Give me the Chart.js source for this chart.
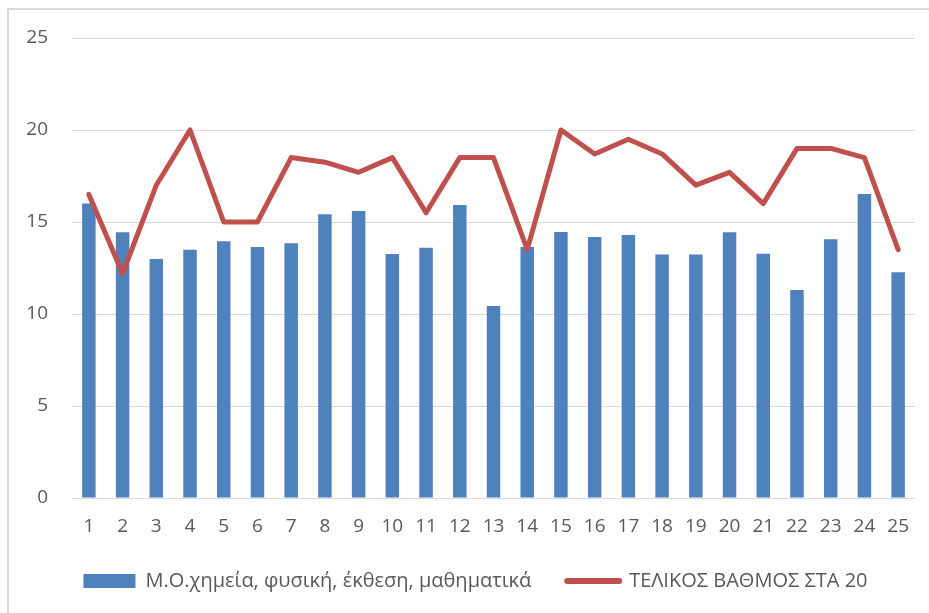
<!DOCTYPE html>
<html>
<head>
<meta charset="utf-8">
<script src="https://cdn.jsdelivr.net/npm/chart.js@4/dist/chart.umd.min.js"></script>
<style>
  html, body { margin: 0; padding: 0; background: #fff; }
  #wrap { position: relative; width: 929px; height: 613px; }
  #frame { position: absolute; left: 7px; top: 8px; right: 0; bottom: 0;
           border-left: 2px solid #d9d9d9; border-top: 2px solid #d9d9d9; }
  canvas { position: absolute; left: 0; top: 0; }
</style>
</head>
<body>
<div id="wrap">
  <div id="frame"></div>
  <canvas id="myChart" width="929" height="613"></canvas>
</div>
<script>
const labels = ['1','2','3','4','5','6','7','8','9','10','11','12','13','14','15','16','17','18','19','20','21','22','23','24','25'];
const mesosOros = [16.0, 14.44, 12.99, 13.49, 13.95, 13.64, 13.84, 15.42, 15.6, 13.26, 13.6, 15.92, 10.43, 13.64, 14.46, 14.18, 14.29, 13.24, 13.24, 14.44, 13.28, 11.3, 14.06, 16.52, 12.27];
const telikos = [16.5, 12.2, 17, 20, 15, 15, 18.5, 18.25, 17.7, 18.5, 15.5, 18.5, 18.5, 13.5, 20, 18.7, 19.5, 18.7, 17, 17.7, 16, 19, 19, 18.5, 13.5];
const yTicks = [0, 5, 10, 15, 20, 25];

const textColor = '#595959';
const fontFamily = '"Open Sans", "Noto Sans", sans-serif';

// nudge the legend a little to the right, under the plot area
const legendShift = {
  id: 'legendShift',
  afterLayout(chart) {
    if (chart.legend) {
      chart.legend.left += 18;
      chart.legend.right += 18;
    }
  }
};

const myChart = new Chart(document.getElementById('myChart'), {
  type: 'bar',
  plugins: [legendShift],
  data: {
    labels: labels,
    datasets: [{
      type: 'bar',
      label: 'Μ.Ο.χημεία, φυσική, έκθεση, μαθηματικά',
      data: mesosOros,
      backgroundColor: '#4f81bd',
      borderWidth: 0,
      barPercentage: 0.4,
      categoryPercentage: 1,
      order: 2
    }, {
      type: 'line',
      label: 'ΤΕΛΙΚΟΣ ΒΑΘΜΟΣ ΣΤΑ 20',
      data: telikos,
      borderColor: '#c0504d',
      backgroundColor: '#c0504d',
      borderWidth: 5,
      borderJoinStyle: 'round',
      borderCapStyle: 'round',
      pointRadius: 0,
      tension: 0,
      order: 1
    }]
  },
  options: {
    responsive: false,
    animation: false,
    layout: { padding: { left: 0, right: 14, top: 38, bottom: 12 } },
    plugins: {
      tooltip: { enabled: false },
      legend: {
        position: 'bottom',
        labels: {
          usePointStyle: true,
          pointStyleWidth: 52,
          boxHeight: 14,
          padding: 36,
          color: textColor,
          font: { family: fontFamily, size: 20 },
          sort: (a, b) => a.datasetIndex - b.datasetIndex,
          generateLabels: (chart) => chart.data.datasets.map((ds, i) => ({
            text: ds.label,
            datasetIndex: i,
            fillStyle: ds.backgroundColor,
            strokeStyle: ds.type === 'line' ? ds.borderColor : ds.backgroundColor,
            lineWidth: ds.type === 'line' ? 6 : 0,
            lineCap: 'round',
            pointStyle: ds.type === 'line' ? 'line' : 'rect',
            fontColor: textColor,
            hidden: false
          }))
        }
      }
    },
    scales: {
      x: {
        grid: { display: false },
        border: { display: false },
        ticks: { color: textColor, font: { family: fontFamily, size: 19 }, padding: 9, maxRotation: 0 },
        afterFit: (s) => { s.height = 37; }
      },
      y: {
        min: 0,
        max: 25,
        afterBuildTicks: (s) => { s.ticks = yTicks.map(v => ({ value: v })); },
        grid: { color: '#d9d9d9', lineWidth: 1, drawTicks: false },
        border: { display: false },
        ticks: { color: textColor, font: { family: fontFamily, size: 19 }, padding: 24 },
        afterFit: (s) => { s.width = 72; }
      }
    }
  }
});
</script>
</body>
</html>
